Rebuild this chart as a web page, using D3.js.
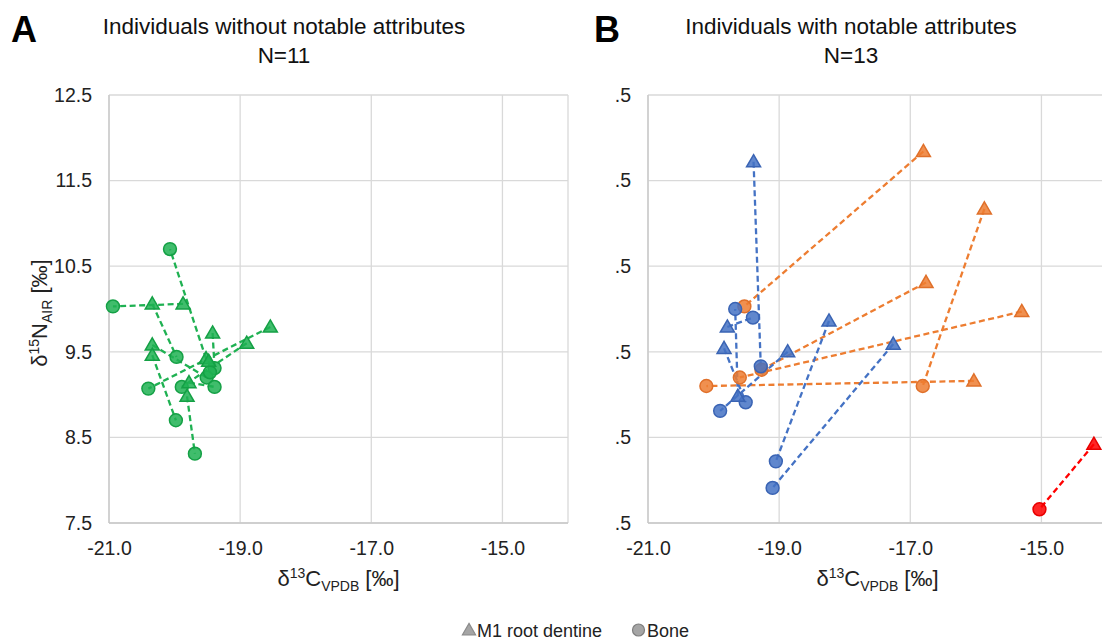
<!DOCTYPE html>
<html>
<head>
<meta charset="utf-8">
<script src="https://cdn.jsdelivr.net/npm/d3@7"></script>
<style>
  html, body { margin: 0; padding: 0; background: #fff; }
  svg { display: block; font-family: "Liberation Sans", Arial, sans-serif; }
</style>
</head>
<body>
<div id="chart"></div>
<script>
// x ticks (δ13C) and y ticks (δ15N)
const xTicks = [-21, -19, -17, -15];
const yTicks = [7.5, 8.5, 9.5, 10.5, 11.5, 12.5];
const yTickLabelsA = ["7.5", "8.5", "9.5", "10.5", "11.5", "12.5"];
const yTickLabelsB = [".5", ".5", ".5", ".5", ".5", ".5"];

// Panel A: individuals without notable attributes, [δ13C, δ15N], paired by index
const aDentine = [[-19.87, 10.06], [-20.34, 10.06], [-19.52, 9.42], [-19.42, 9.72], [-18.54, 9.79], [-18.90, 9.60],
                  [-20.34, 9.58], [-20.34, 9.46], [-19.81, 8.98], [-19.78, 9.14], [-19.48, 9.39]];
const aBone    = [[-20.94, 10.03], [-19.97, 9.44], [-20.07, 10.70], [-19.39, 9.31], [-20.40, 9.07], [-19.89, 9.09],
                  [-19.51, 9.20], [-19.98, 8.70], [-19.69, 8.31], [-19.39, 9.09], [-19.46, 9.26]];

// Panel B: individuals with notable attributes
const bBlueDentine   = [[-19.39, 11.72], [-19.79, 9.79], [-19.63, 8.98], [-19.84, 9.54], [-18.87, 9.50], [-18.24, 9.86], [-17.26, 9.59]];
const bBlueBone      = [[-19.28, 9.33], [-19.40, 9.90], [-19.67, 10.00], [-19.51, 8.91], [-19.90, 8.81], [-19.05, 8.22], [-19.10, 7.91]];
const bOrangeDentine = [[-16.80, 11.84], [-15.87, 11.17], [-16.03, 9.16], [-16.76, 10.31], [-15.30, 9.97]];
const bOrangeBone    = [[-19.53, 10.03], [-16.81, 9.10], [-20.11, 9.10], [-19.27, 9.29], [-19.60, 9.20]];
const bRedDentine    = [[-14.20, 8.42]];
const bRedBone       = [[-15.03, 7.66]];

const W = 1102, H = 640;
const svg = d3.select("#chart").append("svg").attr("width", W).attr("height", H);

const plotTop = 95, plotBottom = 523;
const y = d3.scaleLinear().domain([7.5, 12.5]).range([plotBottom, plotTop]);

function panel(left, right, tickLabels, groups) {
  const x = d3.scaleLinear().domain([-21, -14]).range([left, right]);
  const g = svg.append("g");

  // gridlines
  g.selectAll(".hg").data(yTicks).enter().append("line")
    .attr("x1", left).attr("x2", right)
    .attr("y1", d => y(d)).attr("y2", d => y(d))
    .attr("stroke", "#d9d9d9").attr("stroke-width", 1.3);
  g.selectAll(".vg").data(xTicks).enter().append("line")
    .attr("x1", d => x(d)).attr("x2", d => x(d))
    .attr("y1", plotTop).attr("y2", plotBottom)
    .attr("stroke", "#d9d9d9").attr("stroke-width", 1.3);
  g.append("line").attr("x1", right).attr("x2", right).attr("y1", plotTop).attr("y2", plotBottom)
    .attr("stroke", "#d9d9d9").attr("stroke-width", 1.3);
  g.append("line").attr("x1", left).attr("x2", right).attr("y1", plotBottom).attr("y2", plotBottom)
    .attr("stroke", "#c8c8c8").attr("stroke-width", 1.3);
  g.append("line").attr("x1", left).attr("x2", left).attr("y1", plotTop).attr("y2", plotBottom)
    .attr("stroke", "#c8c8c8").attr("stroke-width", 1.3);

  // tick labels
  const xa = g.append("g").attr("transform", `translate(0,${plotBottom + 6})`)
    .call(d3.axisBottom(x).tickValues(xTicks).tickSize(0));
  xa.select(".domain").remove();
  xa.selectAll("text").attr("dy", "0.71em").attr("y", 12)
    .style("font-size", "19.5px").style("fill", "#222")
    .text(d => d3.format(".1f")(d).replace("−", "-"));

  const ya = g.append("g").attr("transform", `translate(${left - 17},0)`)
    .call(d3.axisLeft(y).tickValues(yTicks).tickSize(0).tickFormat((d, i) => tickLabels[i]));
  ya.select(".domain").remove();
  ya.selectAll("text").attr("x", 0).style("font-size", "19.5px").style("fill", "#222");

  // x axis title
  const xt = g.append("text").attr("x", (left + right) / 2).attr("y", 586)
    .attr("text-anchor", "middle").style("font-size", "22px").style("fill", "#222");
  xt.append("tspan").text("δ");
  xt.append("tspan").attr("dy", -8).style("font-size", "14px").text("13");
  xt.append("tspan").attr("dy", 8).text("C");
  xt.append("tspan").attr("dy", 5).style("font-size", "14px").text("VPDB");
  xt.append("tspan").attr("dy", -5).text(" [‰]");

  const tri = d3.symbol().type(d3.symbolTriangle).size(85);
  const circ = d3.symbol().type(d3.symbolCircle).size(130);

  groups.forEach(grp => {
    grp.dentine.forEach((d, i) => {
      const b = grp.bone[i];
      g.append("line")
        .attr("x1", x(d[0])).attr("y1", y(d[1]))
        .attr("x2", x(b[0])).attr("y2", y(b[1]))
        .attr("stroke", grp.color).attr("stroke-width", 2.3)
        .attr("stroke-dasharray", "6,3.5");
    });
  });
  groups.forEach(grp => {
    g.selectAll(null).data(grp.bone).enter().append("path")
      .attr("d", circ)
      .attr("transform", d => `translate(${x(d[0])},${y(d[1])})`)
      .attr("fill", grp.color).attr("fill-opacity", 0.85)
      .attr("stroke", grp.stroke).attr("stroke-width", 1.5);
    g.selectAll(null).data(grp.dentine).enter().append("path")
      .attr("d", tri)
      .attr("transform", d => `translate(${x(d[0])},${y(d[1]) + 1})`)
      .attr("fill", grp.color).attr("fill-opacity", 0.85)
      .attr("stroke", grp.stroke).attr("stroke-width", 1.5);
  });
}

panel(109, 568, yTickLabelsA, [
  { dentine: aDentine, bone: aBone, color: "#1fb152", stroke: "#14a045" }
]);
panel(648, 1107, yTickLabelsB, [
  { dentine: bOrangeDentine, bone: bOrangeBone, color: "#ed7d31", stroke: "#e0702a" },
  { dentine: bBlueDentine, bone: bBlueBone, color: "#4472c4", stroke: "#3a64b4" },
  { dentine: bRedDentine, bone: bRedBone, color: "#ff0000", stroke: "#e80000" }
]);

// y axis title (panel A)
const yt = svg.append("text").attr("transform", "translate(47,313) rotate(-90)")
  .attr("text-anchor", "middle").style("font-size", "22px").style("fill", "#222");
yt.append("tspan").text("δ");
yt.append("tspan").attr("dy", -8).style("font-size", "14px").text("15");
yt.append("tspan").attr("dy", 8).text("N");
yt.append("tspan").attr("dy", 5).style("font-size", "14px").text("AIR");
yt.append("tspan").attr("dy", -5).text(" [‰]");

// panel letters and titles
svg.append("text").attr("x", 11).attr("y", 42).style("font-size", "36px").style("font-weight", "bold").text("A");
svg.append("text").attr("x", 594).attr("y", 42).style("font-size", "36px").style("font-weight", "bold").text("B");

[[284, "Individuals without notable attributes", "N=11"], [851, "Individuals with notable attributes", "N=13"]]
  .forEach(t => {
    svg.append("text").attr("x", t[0]).attr("y", 34).attr("text-anchor", "middle")
      .style("font-size", "22.5px").style("fill", "#111").text(t[1]);
    svg.append("text").attr("x", t[0]).attr("y", 63).attr("text-anchor", "middle")
      .style("font-size", "22.5px").style("fill", "#111").text(t[2]);
  });

// legend
const lg = svg.append("g");
lg.append("path").attr("d", d3.symbol().type(d3.symbolTriangle).size(75))
  .attr("transform", "translate(469,631)").attr("fill", "#a5a5a5").attr("stroke", "#8a8a8a").attr("stroke-width", 1.2);
lg.append("text").attr("x", 477).attr("y", 637).style("font-size", "18px").style("fill", "#222").text("M1 root dentine");
lg.append("circle").attr("cx", 638.5).attr("cy", 630).attr("r", 6)
  .attr("fill", "#a5a5a5").attr("stroke", "#7f7f7f").attr("stroke-width", 1.2);
lg.append("text").attr("x", 647).attr("y", 637).style("font-size", "18px").style("fill", "#222").text("Bone");
</script>
</body>
</html>
